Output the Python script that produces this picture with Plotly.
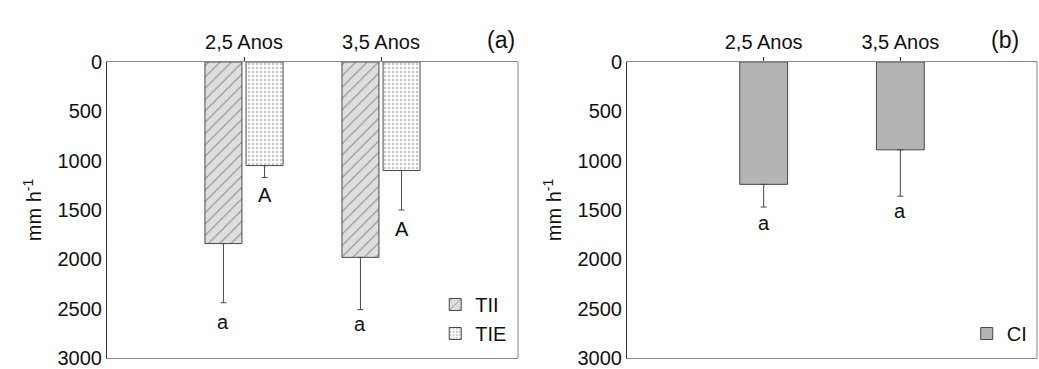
import plotly.graph_objects as go

# ---------------- data ----------------
categories = ["2,5 Anos", "3,5 Anos"]
cat_pos = [0, 1]

tii_values = [1840, 1980]
tii_errors = [600, 530]
tie_values = [1050, 1100]
tie_errors = [120, 400]
ci_values = [1240, 890]
ci_errors = [230, 470]

# significance letters and their vertical positions (data units)
tii_letters = ["a", "a"]
tii_letter_y = [2640, 2660]
tie_letters = ["A", "A"]
tie_letter_y = [1350, 1690]
ci_letters = ["a", "a"]
ci_letter_y = [1630, 1510]

y_ticks = [0, 500, 1000, 1500, 2000, 2500, 3000]

FONT = "Liberation Sans, Arial, sans-serif"
TXT = "#111111"
EDGE = "#4a4a4a"
FS = 20

fig = go.Figure()

err_style = dict(type="data", symmetric=False, color=EDGE, thickness=1, width=3)

fig.add_trace(go.Bar(
    x=cat_pos, y=tii_values, name="TII", xaxis="x", yaxis="y",
    width=0.27, offset=-0.285,
    marker=dict(color="#dedede", line=dict(color=EDGE, width=1),
                pattern=dict(shape="/", fgcolor="#2a2a2a", bgcolor="#dedede",
                             size=8, solidity=0.12)),
    error_y=dict(array=tii_errors, arrayminus=[0, 0], **err_style),
    legend="legend",
))
fig.add_trace(go.Bar(
    x=cat_pos, y=tie_values, name="TIE", xaxis="x", yaxis="y",
    width=0.27, offset=0.015,
    marker=dict(color="#ffffff", line=dict(color=EDGE, width=1),
                pattern=dict(shape=".", fgcolor="#8a8a8a", bgcolor="#ffffff",
                             size=4, solidity=0.3)),
    error_y=dict(array=tie_errors, arrayminus=[0, 0], **err_style),
    legend="legend",
))
fig.add_trace(go.Bar(
    x=cat_pos, y=ci_values, name="CI", xaxis="x2", yaxis="y2",
    width=0.35, offset=-0.175,
    marker=dict(color="#b4b4b4", line=dict(color=EDGE, width=1)),
    error_y=dict(array=ci_errors, arrayminus=[0, 0], **err_style),
    legend="legend2",
))

letter_font = dict(size=FS, color=TXT, family=FONT)
annotations = []
for p, t, yv in zip(cat_pos, tii_letters, tii_letter_y):
    annotations.append(dict(x=p - 0.15, y=yv, xref="x", yref="y", text=t,
                            showarrow=False, font=letter_font))
for p, t, yv in zip(cat_pos, tie_letters, tie_letter_y):
    annotations.append(dict(x=p + 0.15, y=yv, xref="x", yref="y", text=t,
                            showarrow=False, font=letter_font))
for p, t, yv in zip(cat_pos, ci_letters, ci_letter_y):
    annotations.append(dict(x=p, y=yv, xref="x2", yref="y2", text=t,
                            showarrow=False, font=letter_font))

W, H = 1039, 369
ydom = [1 - 358 / H, 1 - 62 / H]

annotations += [
    dict(text="(a)", xref="paper", yref="paper", x=501 / W, y=1 - 25 / H,
         showarrow=False, font=dict(size=23, color=TXT, family=FONT)),
    dict(text="(b)", xref="paper", yref="paper", x=1021 / W, y=1 - 25 / H,
         showarrow=False, font=dict(size=23, color=TXT, family=FONT)),
]

xaxis_common = dict(
    side="top", range=[-1, 2], tickvals=cat_pos, ticktext=categories,
    ticks="outside", ticklen=4, tickcolor="#333333", tickwidth=1,
    showline=True, linecolor="#888888", linewidth=1, mirror=True,
    showgrid=False, zeroline=False, fixedrange=True,
    tickfont=dict(size=FS, color=TXT, family=FONT),
)
yaxis_common = dict(
    range=[3000, 0], tickvals=y_ticks, ticks="",
    ticklabeloverflow="allow",
    showline=True, linecolor="#333333", linewidth=1,
    showgrid=False, zeroline=False,
    tickfont=dict(size=FS, color=TXT, family=FONT),
    title=dict(text="mm h<sup>-1</sup>", font=dict(size=FS, color=TXT, family=FONT), standoff=10),
    automargin=False,
)

fig.update_layout(
    width=W, height=H,
    margin=dict(l=0, r=0, t=0, b=0),
    paper_bgcolor="white", plot_bgcolor="white",
    barmode="overlay",
    xaxis=dict(domain=[107 / W, 518 / W], anchor="y", **xaxis_common),
    yaxis=dict(domain=ydom, anchor="x", **yaxis_common),
    xaxis2=dict(domain=[627 / W, 1037 / W], anchor="y2", **xaxis_common),
    yaxis2=dict(domain=ydom, anchor="x2", **yaxis_common),
    legend=dict(x=0.493, y=1 - 353 / H, xanchor="right", yanchor="bottom",
                bgcolor="rgba(0,0,0,0)", font=dict(size=FS, color=TXT, family=FONT),
                tracegroupgap=0, itemwidth=30),
    legend2=dict(x=0.993, y=1 - 353 / H, xanchor="right", yanchor="bottom",
                 bgcolor="rgba(0,0,0,0)", font=dict(size=FS, color=TXT, family=FONT),
                 itemwidth=30),
    shapes=[
        dict(type="line", xref="x domain", yref="y domain", x0=1, x1=1, y0=0, y1=1,
             line=dict(color="#888888", width=1)),
        dict(type="line", xref="x2 domain", yref="y2 domain", x0=1, x1=1, y0=0, y1=1,
             line=dict(color="#888888", width=1)),
    ],
    annotations=annotations,
)

fig.write_html("out.html")
